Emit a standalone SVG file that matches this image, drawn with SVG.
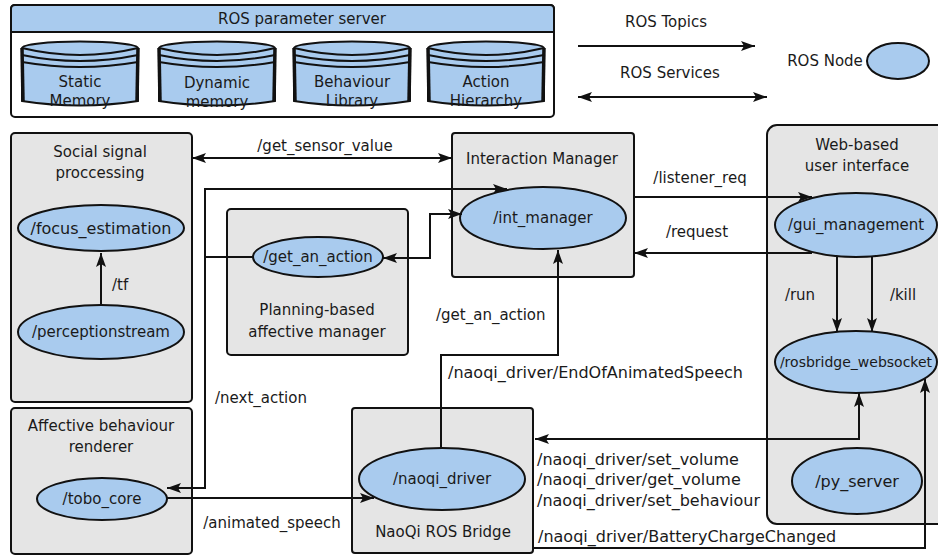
<svg xmlns="http://www.w3.org/2000/svg" width="938" height="556" viewBox="0 0 938 556">
  <defs>
    <style>
      text { font-family: "DejaVu Sans", "Liberation Sans", sans-serif; font-size: 15px; fill: #1a1a1a; }
      .c { text-anchor: middle; }
      .big { font-size: 16px; }
      .box { fill: #e5e5e5; stroke: #111; stroke-width: 2; }
      .node { fill: #a9cbee; stroke: #111; stroke-width: 2; }
      .edge { fill: none; stroke: #111; stroke-width: 2; }
      .cyl { fill: #a9cbee; stroke: #111; stroke-width: 2; }
      .side { stroke: #111; stroke-width: 3.5; }
    </style>
    <marker id="arr" markerUnits="userSpaceOnUse" markerWidth="15" markerHeight="12" refX="14" refY="5" orient="auto-start-reverse" viewBox="0 0 15 10">
      <path d="M0,0 L14,5 L0,10 L3,5 Z" fill="#111"/>
    </marker>
    <!-- database cylinder, 116 wide, origin at top-left -->
    <g id="cylinder">
      <path class="cyl" d="M0,48 A58,6.5 0 0 1 116,48 L116,101 Q58,110 0,101 Z"/>
      <path class="edge" d="M0,48 Q58,62 116,48"/>
      <path class="edge" d="M0,55 Q58,67 116,55"/>
      <path class="edge" d="M0,62 Q58,72 116,62"/>
      <line class="side" x1="0" y1="48" x2="1" y2="101"/>
      <line class="side" x1="116" y1="48" x2="115" y2="101"/>
    </g>
  </defs>

  <rect width="938" height="556" fill="#fff"/>

  <!-- parameter server -->
  <g id="param_server">
    <rect x="11" y="5" width="543" height="112" rx="4" fill="#fff" stroke="#111" stroke-width="2"/>
    <path d="M11,32 L11,9 Q11,5 15,5 L550,5 Q554,5 554,9 L554,32 Z" fill="#a9cbee" stroke="#111" stroke-width="2"/>
    <text class="c" x="302" y="24">ROS parameter server</text>
    <g id="static_memory">
      <use href="#cylinder" x="22"/>
      <text class="c" x="80" y="87">Static</text>
      <text class="c" x="80" y="106">Memory</text>
    </g>
    <g id="dynamic_memory">
      <use href="#cylinder" x="159"/>
      <text class="c" x="217" y="88">Dynamic</text>
      <text class="c" x="217" y="107">memory</text>
    </g>
    <g id="behaviour_library">
      <use href="#cylinder" x="294"/>
      <text class="c" x="352" y="87">Behaviour</text>
      <text class="c" x="352" y="106">Library</text>
    </g>
    <g id="action_hierarchy">
      <use href="#cylinder" x="428"/>
      <text class="c" x="486" y="87">Action</text>
      <text class="c" x="486" y="106">Hierarchy</text>
    </g>
  </g>

  <!-- legend -->
  <g id="legend">
    <text class="c" x="666" y="27">ROS Topics</text>
    <line class="edge" x1="578" y1="46" x2="755" y2="46" marker-end="url(#arr)"/>
    <text class="c" x="670" y="78">ROS Services</text>
    <line class="edge" x1="578" y1="97" x2="767" y2="97" marker-start="url(#arr)" marker-end="url(#arr)"/>
    <text class="c" x="825" y="66">ROS Node</text>
    <ellipse class="node" cx="898" cy="61" rx="31" ry="18"/>
  </g>

  <!-- nodes -->
  <g id="social_signal">
    <rect class="box" x="11" y="133" width="181" height="269" rx="4"/>
    <text class="c" x="100" y="157">Social signal</text>
    <text class="c" x="100" y="178">proccessing</text>
    <g id="focus_estimation">
      <ellipse class="node" cx="101" cy="228" rx="83" ry="23"/>
      <text class="c big" x="101" y="234">/focus_estimation</text>
    </g>
    <g id="perceptionstream">
      <ellipse class="node" cx="101" cy="332" rx="83" ry="27"/>
      <text class="c" x="101" y="337">/perceptionstream</text>
    </g>
  </g>

  <g id="planning_manager">
    <rect class="box" x="227" y="209" width="181" height="146" rx="4"/>
    <g id="get_an_action">
      <ellipse class="node" cx="318" cy="257" rx="65" ry="20"/>
      <text class="c" x="318" y="262">/get_an_action</text>
    </g>
    <text class="c" x="317" y="315">Planning-based</text>
    <text class="c" x="317" y="337">affective manager</text>
  </g>

  <g id="interaction_manager">
    <rect class="box" x="452" y="133" width="182" height="144" rx="3"/>
    <text class="c" x="542" y="164">Interaction Manager</text>
    <g id="int_manager">
      <ellipse class="node" cx="543" cy="218" rx="83" ry="31"/>
      <text class="c" x="543" y="223">/int_manager</text>
    </g>
  </g>

  <g id="web_ui">
    <rect class="box" x="767" y="125" width="190" height="399" rx="10"/>
    <text class="c" x="857" y="150">Web-based</text>
    <text class="c" x="857" y="171">user interface</text>
    <g id="gui_management">
      <ellipse class="node" cx="856" cy="225" rx="81" ry="32"/>
      <text class="c" x="856" y="230">/gui_management</text>
    </g>
    <g id="rosbridge_websocket">
      <ellipse class="node" cx="856" cy="362" rx="81" ry="31"/>
      <text class="c" x="856" y="367" style="font-size:14px">/rosbridge_websocket</text>
    </g>
    <g id="py_server">
      <ellipse class="node" cx="857" cy="481" rx="65" ry="33"/>
      <text class="c big" x="857" y="487">/py_server</text>
    </g>
  </g>

  <g id="behaviour_renderer">
    <rect class="box" x="11" y="408" width="181" height="146" rx="4"/>
    <text class="c" x="101" y="431">Affective behaviour</text>
    <text class="c" x="101" y="452">renderer</text>
    <g id="tobo_core">
      <ellipse class="node" cx="102" cy="499" rx="65" ry="21"/>
      <text class="c" x="102" y="504">/tobo_core</text>
    </g>
  </g>

  <g id="naoqi_bridge">
    <rect class="box" x="352" y="408" width="181" height="145" rx="3"/>
    <g id="naoqi_driver">
      <ellipse class="node" cx="442" cy="479" rx="83" ry="31"/>
      <text class="c" x="442" y="484">/naoqi_driver</text>
    </g>
    <text class="c" x="443" y="537">NaoQi ROS Bridge</text>
  </g>

  <!-- connectors -->
  <g id="connectors">
    <line class="edge" x1="101" y1="305" x2="101" y2="253" marker-end="url(#arr)"/>
    <line class="edge" x1="192" y1="158" x2="452" y2="158" marker-start="url(#arr)" marker-end="url(#arr)"/>
    <path class="edge" d="M507,189 L205,189 L205,488 L167,488" marker-start="url(#arr)" marker-end="url(#arr)"/>
    <line class="edge" x1="253" y1="257" x2="205" y2="257"/>
    <path class="edge" d="M383,258 L430,258 L430,214 L462,214" marker-start="url(#arr)" marker-end="url(#arr)"/>
    <line class="edge" x1="634" y1="197" x2="812" y2="197" marker-end="url(#arr)"/>
    <line class="edge" x1="812" y1="253" x2="634" y2="253" marker-end="url(#arr)"/>
    <path class="edge" d="M441,448 L441,355 L558,355 L558,250" marker-end="url(#arr)"/>
    <path class="edge" d="M535,439 L859,439 L859,393" marker-start="url(#arr)" marker-end="url(#arr)"/>
    <path class="edge" d="M533,548 L925,548 L925,379" marker-end="url(#arr)"/>
    <line class="edge" x1="167" y1="498" x2="374" y2="498" marker-end="url(#arr)"/>
    <line class="edge" x1="837" y1="257" x2="837" y2="332" marker-end="url(#arr)"/>
    <line class="edge" x1="872" y1="257" x2="872" y2="332" marker-end="url(#arr)"/>

    <text x="112" y="290">/tf</text>
    <text class="c" x="325" y="151">/get_sensor_value</text>
    <text x="215" y="403">/next_action</text>
    <text class="c" x="700" y="183">/listener_req</text>
    <text class="c" x="697" y="237">/request</text>
    <text x="436" y="320">/get_an_action</text>
    <text class="big" x="448" y="378">/naoqi_driver/EndOfAnimatedSpeech</text>
    <text class="big" x="537" y="465">/naoqi_driver/set_volume</text>
    <text class="big" x="537" y="485">/naoqi_driver/get_volume</text>
    <text class="big" x="537" y="506">/naoqi_driver/set_behaviour</text>
    <text class="big" x="538" y="542">/naoqi_driver/BatteryChargeChanged</text>
    <text class="c" x="272" y="528">/animated_speech</text>
    <text class="c" x="800" y="300">/run</text>
    <text class="c" x="903" y="300">/kill</text>
  </g>
</svg>
